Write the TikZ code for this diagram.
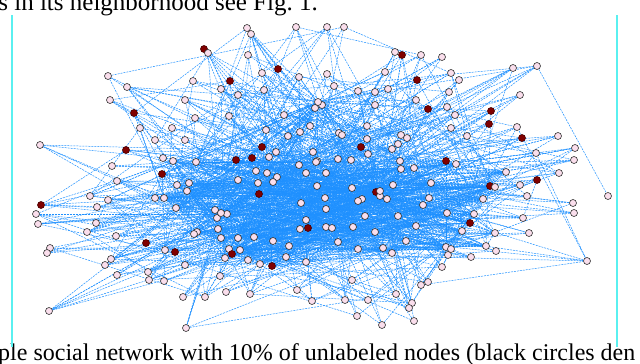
\documentclass[tikz,border=0pt]{standalone}
\usepackage{fontspec}
\setmainfont{Liberation Serif}
\usetikzlibrary{backgrounds}
\definecolor{edgeblue}{RGB}{30,144,255}
\definecolor{nodepink}{RGB}{250,222,236}
\definecolor{nodered}{RGB}{128,0,0}
\definecolor{noderim}{RGB}{50,50,50}
\definecolor{redrim}{RGB}{70,0,0}
\definecolor{cyanline}{RGB}{90,240,240}
\begin{document}
\begin{tikzpicture}[x=1pt,y=-1pt,
  ndp/.style={circle,draw=noderim,fill=nodepink,line width=0.6pt,inner sep=0pt,minimum size=7pt},
  ndr/.style={ndp,fill=nodered,draw=redrim},
  lnk/.style={draw=edgeblue,line width=0.5pt,dash pattern=on 2pt off 1pt},
  captext/.style={font=\fontsize{24}{24}\selectfont,inner sep=0pt},
  frameline/.style={draw=cyanline,line width=1.5pt}]
\useasboundingbox (0,0) rectangle (640,364);
\clip (0,0) rectangle (640,364);
\node[captext,font=\fontsize{25}{25}\selectfont,anchor=base east] (toptext) at (318,10.5) {s in its neighborhood see Fig.~1.};
\node[captext,anchor=base west] (bottext) at (-2,360) {ple social network with 10\% of unlabeled nodes (black circles den};
\draw[frameline] (12,15) -- (12,347);
\draw[frameline] (617,15) -- (617,347);
\foreach \x/\y/\t [count=\i] in {
247/28/p, 296/27/p, 327/27/p, 344/27/p,
204/49/r, 208/53/p, 251/34/p, 248/55/p, 278/69/r, 262/73/p, 230/81/r, 193/81/p, 221/89/p, 238/95/p, 264/90/p, 299/77/p, 327/74/p, 334/86/p, 185/100/p, 322/105/p, 315/108/p, 195/118/p, 229/116/p, 284/115/p, 266/130/p, 310/126/p,
358/91/p, 375/92/p, 388/89/p, 385/72/p, 375/105/p, 300/132/p, 288/136/p, 339/133/p, 342/135/p, 367/126/p, 367/139/p, 401/135/p, 407/138/p, 262/147/r, 252/158/r, 276/152/p, 269/157/p, 313/152/p, 317/161/p, 361/147/r, 368/154/p, 338/159/p, 351/160/p, 392/149/p, 398/144/p, 400/161/p, 299/165/p,
395/52/p, 402/55/r, 421/55/p, 442/57/p, 513/68/p, 537/66/p, 417/80/r, 451/73/p, 459/80/p, 449/92/p, 416/100/p, 428/109/r, 447/107/p, 455/115/p, 491/111/r, 489/124/r, 517/127/p, 451/128/p, 522/138/r, 558/136/p, 467/136/p,
112/166/p, 117/181/p, 90/196/p, 41/205/r, 36/214/p, 97/207/p, 108/200/p, 38/224/p, 96/223/p, 87/232/p, 116/236/p, 50/248/p, 47/253/p, 146/243/r, 165/250/p, 175/252/r, 111/259/p, 105/265/p, 185/265/p, 117/275/p, 148/272/p, 149/280/p, 164/281/p, 220/276/p, 226/292/p, 183/297/p, 205/297/p, 49/311/p, 186/328/p,
587/261/p, 496/251/p, 471/257/p, 448/255/p, 442/267/p, 421/285/p, 428/282/p, 412/303/p, 409/308/p, 414/321/p, 382/325/p,
536/153/p, 574/160/p, 559/173/p, 537/180/r, 520/185/p, 527/196/p, 608/196/p, 573/203/p, 574/213/p, 523/218/p, 529/233/p,
173/161/p, 196/162/p, 236/160/r, 162/174/r, 177/185/p, 189/183/p, 187/191/p, 155/198/p, 164/198/p, 238/180/p, 256/171/p, 267/173/p, 277/177/p, 273/182/p, 258/183/p, 259/194/r, 316/162/p, 306/173/p, 326/173/p, 317/186/p, 325/198/p, 176/208/p, 215/210/p, 227/214/p, 217/218/p, 326/209/p, 306/220/p, 308/228/r, 300/229/p, 326/227/p, 218/229/p, 197/232/p, 194/234/p, 221/238/p, 238/238/p, 254/237/p, 273/241/p, 289/246/p, 229/249/p, 232/254/r, 240/250/p, 225/258/p, 248/260/p, 272/266/r, 286/257/p, 306/262/p, 260/264/p,
446/161/r, 456/164/p, 401/169/p, 414/168/p, 506/172/p, 431/183/p, 393/185/p, 376/192/r, 380/196/p, 362/199/p, 358/201/p, 387/199/p, 490/186/r, 495/187/p, 429/198/p, 483/199/p, 423/205/p, 447/213/p, 474/214/p, 365/216/p, 398/216/p, 470/223/r, 416/226/p, 332/228/p, 353/227/p, 375/232/p, 462/231/p, 495/233/p, 406/241/p, 338/242/p, 358/249/p, 383/248/p, 392/253/p, 446/247/p, 451/249/p, 486/246/p,
108/76/p, 127/87/p, 134/113/r, 110/100/p, 140/128/p, 126/150/r, 155/140/p, 163/158/p, 185/140/p, 40/145/p, 172/128/p, 250/294/p, 297/290/p, 312/301/p, 345/300/p, 357/316/p, 368/300/p, 396/294/p, 352/280/p, 520/95/p, 575/148/p}
{\node[nd\t] (n\i) at (\x,\y) {}; \xdef\N{\i}}
\node[ndp] (hubA) at (318,102) {};
\node[ndp] (hubB) at (380,191) {};
\node[ndp] (hubC) at (221,213) {};
\node[ndp] (hubD) at (301,203) {};
\node[ndp] (hubE) at (352,188) {};
\pgfmathsetseed{42}
\begin{pgfonlayer}{background}
% the lone far-right node hangs on one long link
\draw[lnk] (n59) -- (n121);
% every node: one link anywhere, two links into the dense core
\foreach \i in {1,...,\N}{
  \ifnum\i=121\else
  \pgfmathrandominteger{\j}{1}{\N}
  \ifnum\j=\i\else\ifnum\j=121\else\draw[lnk] (n\i) -- (n\j);\fi\fi
  \foreach \k in {1,2}{
    \pgfmathrandominteger{\j}{126}{208}
    \ifnum\j=\i\else\draw[lnk] (n\i) -- (n\j);\fi
  }
  \fi
}
% dense core
\foreach \i in {126,...,208}{
  \foreach \k in {1,...,5}{
    \pgfmathrandominteger{\j}{126}{208}
    \ifnum\j=\i\else\draw[lnk] (n\i) -- (n\j);\fi
  }
}
\foreach \h/\m in {hubA/70,hubB/70,hubC/60,hubD/60,hubE/50}{
  \foreach \k in {1,...,\m}{
    \pgfmathrandominteger{\j}{1}{\N}
    \ifnum\j=121\else\draw[lnk] (\h) -- (n\j);\fi
  }
}
\end{pgfonlayer}
\end{tikzpicture}
\end{document}
